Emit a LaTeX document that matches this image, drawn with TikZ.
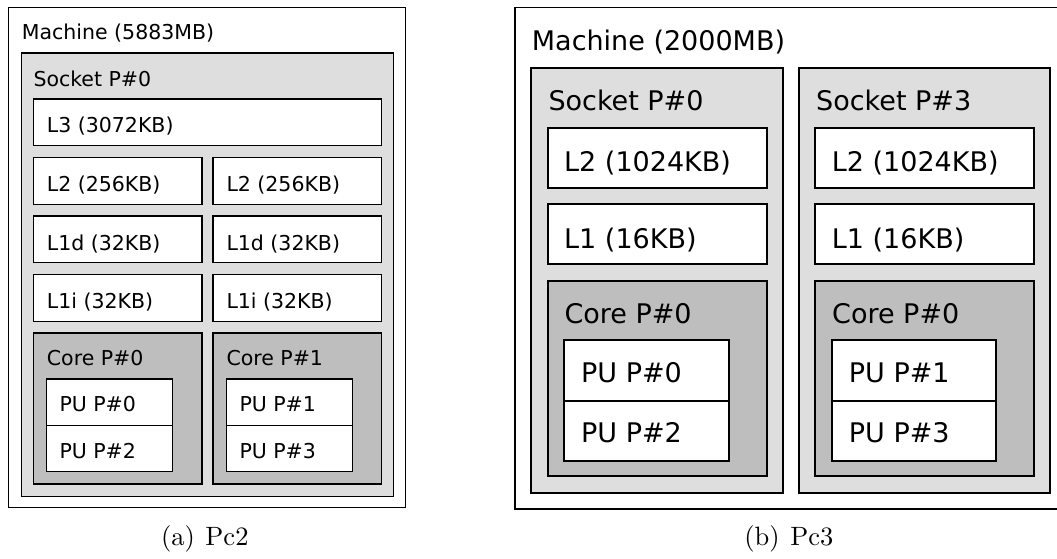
\documentclass[tikz,border=0pt]{standalone}
\usepackage{fontspec}
\newfontfamily\hwfont{DejaVu Sans}
\newfontfamily\captfont{lmroman10-regular}[Extension=.otf]
\definecolor{pkgfill}{HTML}{DEDEDE}
\definecolor{corefill}{HTML}{BEBEBE}

% box with its north-west corner at (x1,y1) and south-east corner at (x2,y2)
\newcommand\hwbox[6]{%
  \node[#2, anchor=north west, inner sep=0pt,
        minimum width={(#5)-(#3)}, minimum height={(#6)-(#4)}] (#1) at (#3,#4) {};}

\tikzset{
  machA/.style={draw=black, fill=white, line width=1.1pt},
  pkgA/.style={draw=black, fill=pkgfill, line width=1.4pt},
  cacheA/.style={draw=black, fill=white, line width=1.4pt},
  coreA/.style={draw=black, fill=corefill, line width=1.4pt},
  machB/.style={draw=black, fill=white, line width=1.5pt},
  pkgB/.style={draw=black, fill=pkgfill, line width=1.9pt},
  cacheB/.style={draw=black, fill=white, line width=1.9pt},
  coreB/.style={draw=black, fill=corefill, line width=1.9pt},
  txtA/.style={anchor=base west, inner sep=0pt, font=\hwfont\fontsize{20.5}{24}\selectfont},
  txtB/.style={anchor=base west, inner sep=0pt, font=\hwfont\fontsize{27}{32}\selectfont},
  capt/.style={anchor=base west, inner sep=0pt, font=\captfont\fontsize{26.5}{30}\selectfont},
}

\begin{document}
\begin{tikzpicture}[x=1pt, y=-1pt]
\clip (0,0) rectangle (1057,558);
\fill[white] (0,0) rectangle (1057,558);

% ---------------- Pc2 ----------------
\hwbox{mA}{machA}{8.3}{7.3}{405.3}{507}
\node[txtA] (mAt) at (21.7,39) {Machine (5883MB)};
\hwbox{sA}{pkgA}{20.7}{52.3}{392.7}{496}
\node[txtA] (sAt) at (33.3,86) {Socket P\#0};
\hwbox{lthree}{cacheA}{32.7}{98.3}{380.7}{145}
\node[txtA] (lthreet) at (46.7,132.7) {L3 (3072KB)};

\foreach \i/\x/\px/\pa/\pb in {0/32.7/45.7/0/2, 1/212.3/225.7/1/3} {
  \hwbox{ltwoA\i}{cacheA}{\x}{156.8}{\x+168.4}{203.5}
  \node[txtA] (ltwoAt\i) at (\x+14,191.7) {L2 (256KB)};
  \hwbox{ldA\i}{cacheA}{\x}{215.3}{\x+168.4}{262}
  \node[txtA] (ldAt\i) at (\x+14,250) {L1d (32KB)};
  \hwbox{liA\i}{cacheA}{\x}{273.8}{\x+168.4}{320.5}
  \node[txtA] (liAt\i) at (\x+14,308.7) {L1i (32KB)};
  \hwbox{cA\i}{coreA}{\x}{332.3}{\x+168.4}{483.3}
  \node[txtA] (cAt\i) at (\x+14,365) {Core P\#\i};
  \hwbox{puA\pa}{cacheA}{\px}{378.3}{\px+126.3}{425}
  \node[txtA] (puAt\pa) at (\px+13.6,411.7) {PU P\#\pa};
  \hwbox{puA\pb}{cacheA}{\px}{425}{\px+126.3}{471}
  \node[txtA] (puAt\pb) at (\px+13.6,458.3) {PU P\#\pb};
}
\node[capt] (captA) at (160.8,545.7) {(a)\hspace{0.4em}Pc2};

% ---------------- Pc3 ----------------
\hwbox{mB}{machB}{514.3}{6.7}{1065}{508}
\node[txtB] (mBt) at (531.7,50) {Machine (2000MB)};

\foreach \s/\dx/\pa/\pb in {0/0/0/2, 3/267.7/1/3} {
  \hwbox{sB\s}{pkgB}{530+\dx}{66.7}{781.7+\dx}{492}
  \node[txtB] (sBt\s) at (548.3+\dx,110) {Socket P\#\s};
  \hwbox{ltwoB\s}{cacheB}{546.7+\dx}{126.7}{765.7+\dx}{186.7}
  \node[txtB] (ltwoBt\s) at (564+\dx,171.7) {L2 (1024KB)};
  \hwbox{loneB\s}{cacheB}{546.7+\dx}{203}{765.7+\dx}{263.3}
  \node[txtB] (loneBt\s) at (564+\dx,248.3) {L1 (16KB)};
  \hwbox{cB\s}{coreB}{546.7+\dx}{279.7}{765.7+\dx}{475.3}
  \node[txtB] (cBt\s) at (564.3+\dx,323) {Core P\#0};
  \hwbox{puB\pa}{cacheB}{563.3+\dx}{339}{727.7+\dx}{399.7}
  \node[txtB] (puBt\pa) at (581+\dx,382) {PU P\#\pa};
  \hwbox{puB\pb}{cacheB}{563.3+\dx}{399.7}{727.7+\dx}{459.7}
  \node[txtB] (puBt\pb) at (581+\dx,442.3) {PU P\#\pb};
}
\node[capt] (captB) at (744.2,545.7) {(b)\hspace{0.4em}Pc3};
\end{tikzpicture}
\end{document}
